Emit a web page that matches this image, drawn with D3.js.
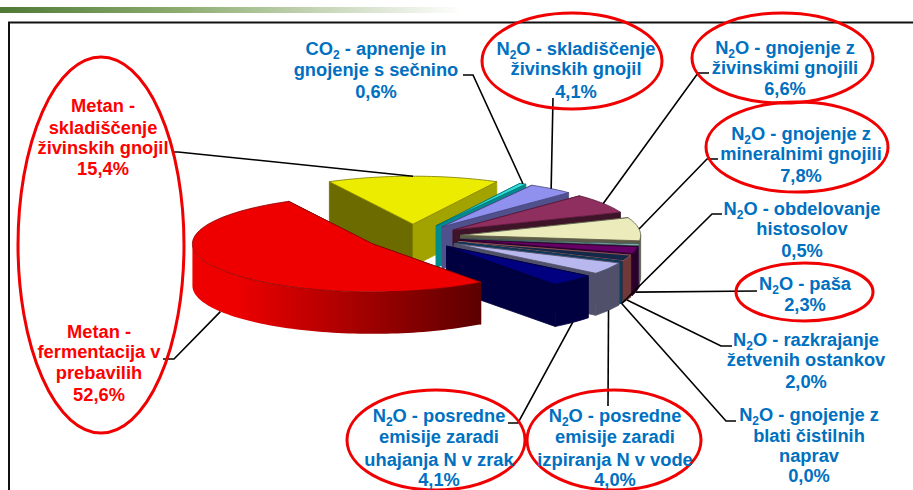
<!DOCTYPE html>
<html>
<head>
<meta charset="utf-8">
<script src="https://cdn.jsdelivr.net/npm/d3@7/dist/d3.min.js"></script>
<style>
html,body{margin:0;padding:0;background:#fff}
svg{display:block}
text{font-family:"Liberation Sans",Arial,sans-serif;font-weight:700;font-size:18.3px;text-anchor:middle}
</style>
</head>
<body>
<svg id="chart" width="913" height="490"></svg>
<script>
// Emission sources, clockwise from the back of the pie
const sources = [
  "Metan - skladiščenje živinskih gnojil",
  "CO2 - apnenje in gnojenje s sečnino",
  "N2O - skladiščenje živinskih gnojil",
  "N2O - gnojenje z živinskimi gnojili",
  "N2O - gnojenje z mineralnimi gnojili",
  "N2O - obdelovanje histosolov",
  "N2O - paša",
  "N2O - razkrajanje žetvenih ostankov",
  "N2O - gnojenje z blati čistilnih naprav",
  "N2O - posredne emisije zaradi izpiranja N v vode",
  "N2O - posredne emisije zaradi uhajanja N v zrak",
  "Metan - fermentacija v prebavilih"
];
const shares = [15.4, 0.6, 4.1, 6.6, 7.8, 0.5, 2.3, 2.0, 0.0, 4.0, 4.1, 52.6];
const labelLines = [
  ["Metan -", "skladiščenje", "živinskih gnojil", "15,4%"],
  ["CO₂ - apnenje in", "gnojenje s sečnino", "0,6%"],
  ["N₂O - skladiščenje", "živinskih gnojil", "4,1%"],
  ["N₂O - gnojenje z", "živinskimi gnojili", "6,6%"],
  ["N₂O - gnojenje z", "mineralnimi gnojili", "7,8%"],
  ["N₂O - obdelovanje", "histosolov", "0,5%"],
  ["N₂O - paša", "2,3%"],
  ["N₂O - razkrajanje", "žetvenih ostankov", "2,0%"],
  ["N₂O - gnojenje z", "blati čistilnih", "naprav", "0,0%"],
  ["N₂O - posredne", "emisije zaradi", "izpiranja N v vode", "4,0%"],
  ["N₂O - posredne", "emisije zaradi", "uhajanja N v zrak", "4,1%"],
  ["Metan -", "fermentacija v", "prebavilih", "52,6%"]
];

// Slice colours: top face, start wall, end wall, outer wall, top outline
const topColors   = ["#ecec00","#33dddd","#9090ee","#8f2f5f","#ebebbb","#a8e8e8","#660066","#14284a","#103a5a","#b8b8ee","#000080","#ee0000"];
const startColors = ["#6b6b00","#1a8080","#50508c","#3d1428","#5c5c48","#4a6868","#300030","#703838","#103a5a","#50506a","#000040","#600000"];
const endColors   = ["#a3a300","#008c8c","#50508c","#3d1428","#5c5c48","#3a5050","#300030","#0c1c34","#103a5a","#50506a","#000040","#600000"];
const outerColors = ["#a3a300","#008c8c","#50508c","#3d1428","#4e5c54","#3a5050","#2a002a","#703838","#103a5a","#50506a","#000040","url(#redWall)"];
const edgeColors  = ["#7a7a00","#007070","#40407a","#5a1a3c","#5c5c48","#3a5050","#300030","#a06058","#103a5a","#50506a","#00003a","#8a0000"];

// Pie geometry
const centerX = 413, centerY = 237, radiusX = 180, radiusY = 48;
const depth = 42, explode = 0.267;
const x = d3.scaleLinear().domain([-1, 1]).range([centerX - radiusX, centerX + radiusX]);
const y = d3.scaleLinear().domain([-1, 1]).range([centerY - radiusY, centerY + radiusY]);

const svg = d3.select("#chart");
const defs = svg.append("defs");

const barFade = defs.append("linearGradient").attr("id", "barFade");
barFade.append("stop").attr("offset", 0).attr("stop-color", "#4e7a35");
barFade.append("stop").attr("offset", 0.4).attr("stop-color", "#8fae72");
barFade.append("stop").attr("offset", 1).attr("stop-color", "#ffffff");

const redWall = defs.append("linearGradient").attr("id", "redWall")
  .attr("gradientUnits", "userSpaceOnUse")
  .attr("x1", 235).attr("x2", 484).attr("y1", 0).attr("y2", 0);
redWall.append("stop").attr("offset", 0).attr("stop-color", "#ee0000");
redWall.append("stop").attr("offset", 1).attr("stop-color", "#5a0000");

// Header strip and slide frame
svg.append("rect").attr("x", 0).attr("y", 7).attr("width", 462).attr("height", 6).attr("fill", "url(#barFade)");
svg.append("path").attr("d", "M9,490V22.5H913").attr("fill", "none").attr("stroke", "#111").attr("stroke-width", 2);

const slices = d3.pie().sort(null).value(d => d)
  .startAngle(-27.7 * Math.PI / 180)
  .endAngle((360 - 27.7) * Math.PI / 180)(shares);

// Slice apex after pulling the slice away from the centre
const apex = s => {
  const mid = (s.startAngle + s.endAngle) / 2;
  return [explode * Math.sin(mid), -explode * Math.cos(mid)];
};
const project = (s, r, angle, drop = 0) => {
  const [ax, ay] = apex(s);
  return [x(ax + r * Math.sin(angle)), y(ay - r * Math.cos(angle)) + drop];
};
const arcPoints = (s, from, to, drop = 0) => {
  const n = Math.max(1, Math.ceil((to - from) / 0.03));
  return d3.range(n + 1).map(i => project(s, 1, from + (to - from) * i / n, drop));
};
const path = d3.line().curve(d3.curveLinearClosed);

const pie = svg.append("g").attr("stroke-linejoin", "round");
slices.forEach((s, i) => {
  const g = pie.append("g");
  const radial = a => [project(s, 0, a), project(s, 1, a), project(s, 1, a, depth), project(s, 0, a, depth)];
  const draw = (pts, fill, line) => g.append("path").attr("d", path(pts))
    .attr("fill", fill).attr("stroke", line).attr("stroke-width", 0.8);
  draw(radial(s.startAngle), startColors[i], startColors[i]);
  draw(radial(s.endAngle), endColors[i], endColors[i]);
  // Only the part of the rim that faces the viewer gets a wall
  const from = Math.max(s.startAngle, Math.PI / 2), to = Math.min(s.endAngle, 3 * Math.PI / 2);
  if (to > from) {
    draw(arcPoints(s, from, to).concat(arcPoints(s, from, to, depth).reverse()),
      outerColors[i], i === 11 ? "none" : startColors[i]);
  }
  draw([project(s, 0, s.startAngle)].concat(arcPoints(s, s.startAngle, s.endAngle)), topColors[i], edgeColors[i]);
});

// Free end of each leader line, with its short elbow beside the label
const leaderEnds = [
  [[172,152],[178,152]], [[463,75],[473,75]], [[553,98]], [[709,73],[698,73]],
  [[718,159],[707,159]], [[722,214],[712,214]], [[757,291]], [[732,346],[721,346]],
  [[736,421],[726,421]], [[608,406]], [[508,423],[518,423]], [[163,359],[174,359]]
];
// Slices whose leader is attached to the lower rim of the pie
const lowerRim = [false,false,false,false,false,true,true,true,true,true,true,true];
const leaderLine = d3.line();
const leaders = svg.append("g").attr("stroke", "#000").attr("stroke-width", 1.6).attr("fill", "none");
slices.forEach((s, i) => {
  const mid = (s.startAngle + s.endAngle) / 2;
  const from = project(s, 1, mid, lowerRim[i] ? depth : 0);
  // The histosol line runs on over the dark walls down to the pie's foot
  const to = i === 5 ? project(slices[8], 1, slices[8].startAngle, depth) : from;
  leaders.append("path").attr("d", leaderLine(leaderEnds[i].concat([to])));
});

// Hand-drawn highlight rings
const rings = [[101,245,83,188],[572,61,90,48],[782.5,58,90.5,45],[797,147,91,45],[804.5,292,68.5,29],[436,440,89,50],[614,440,87,50]];
svg.append("g").selectAll("ellipse").data(rings).join("ellipse")
  .attr("cx", d => d[0]).attr("cy", d => d[1]).attr("rx", d => d[2]).attr("ry", d => d[3])
  .attr("fill", "none").attr("stroke", "#f00000").attr("stroke-width", 3);

// Label placement: centre x and the baseline of each row
const labelX = [103,376,576,785,801,802,805,806,809,615,439,99];
const labelY = [
  [112,134,154,175],[55,76,98],[55,75,98],[54,74,95],[140,160,182],[215,235,257],
  [290,311],[346,366,388],[421,442,462,482],[422,443,466,486],[422,443,466,486],[338,358,379,401]
];
const labels = svg.append("g");
labelLines.forEach((rows, i) => {
  rows.forEach((row, j) => {
    const t = labels.append("text").attr("x", labelX[i]).attr("y", labelY[i][j])
      .attr("fill", sources[i].startsWith("Metan") ? "#ff0000" : "#0070c0");
    // Chemical formulae get a real lowered subscript
    row.split(/(₂)/).forEach(part => {
      if (part === "₂") t.append("tspan").attr("font-size", "12px").attr("dy", 4).text("2");
      else if (part) {
        const span = t.append("tspan").text(part);
        if (t.selectAll("tspan").size() > 1) span.attr("dy", -4);
      }
    });
  });
});
</script>
</body>
</html>
